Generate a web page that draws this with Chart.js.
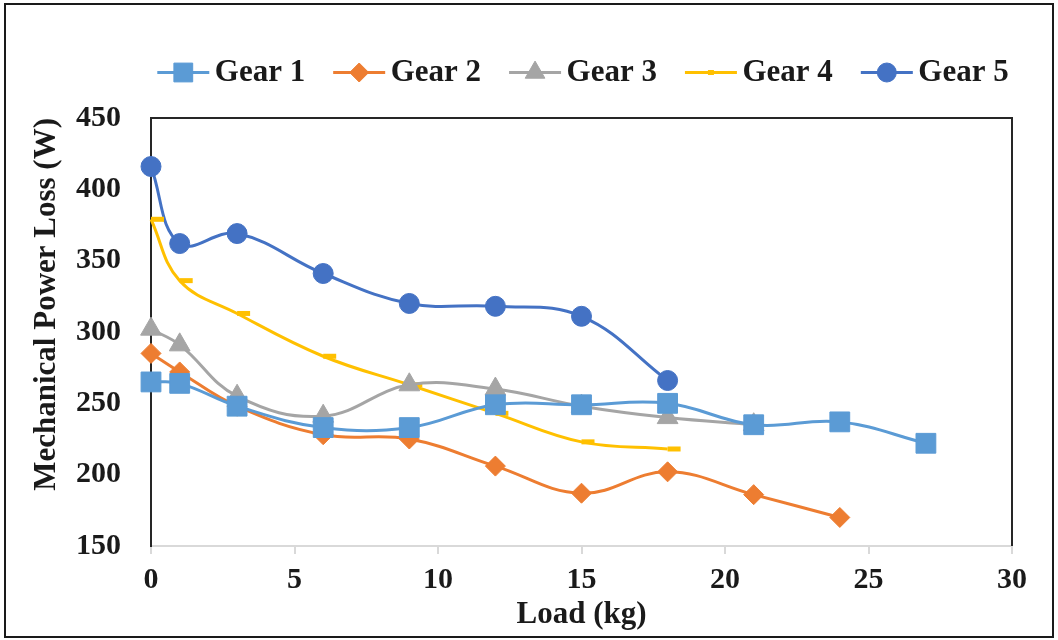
<!DOCTYPE html>
<html>
<head>
<meta charset="utf-8">
<script src="https://cdn.jsdelivr.net/npm/chart.js@4.4.1/dist/chart.umd.min.js"></script>
<style>
  html, body { margin: 0; padding: 0; background: #fff; }
  #wrap { position: relative; width: 1058px; height: 640px; }
  #frame {
    position: absolute; left: 4px; top: 3px; width: 1050px; height: 635px;
    box-sizing: border-box; border: 2px solid #1a1a1a; pointer-events: none;
  }
</style>
</head>
<body>
<div id="wrap">
  <canvas id="grafica" width="1058" height="640"></canvas>
  <div id="frame"></div>
</div>
<script>
// carga (kg) y pérdidas por marcha (W)
const cargas = [0, 1, 3, 6, 9, 12, 15, 18, 21, 24, 27];
const marcha1 = [265, 264, 248, 233, 233, 249, 249, 250, 235, 237, 222];
const marcha2 = [285, 272, 248, 228, 225, 206, 187, 202, 186, 170];
const marcha3 = [302, 291, 255, 241, 263, 260, 248, 240, 235];
const marcha4 = [379, 336, 313, 283, 263, 243, 223, 218];
const marcha5 = [416, 362, 369, 341, 320, 318, 311, 266];

const nombres = ['Gear 1', 'Gear 2', 'Gear 3', 'Gear 4', 'Gear 5'];
const colores = ['#5B9BD5', '#ED7D31', '#A5A5A5', '#FFC000', '#4472C4'];
const marcadores = ['rect', 'rectRot', 'triangle', 'dash', 'circle'];
const radios = [14, 10, 12, 13, 10];
const bordesPunto = [1, 1, 1, 5, 1];

const fuente = '"Liberation Serif", "Times New Roman", serif';
const texto = '#1a1a1a';

function puntos(valores) {
    return valores.map((v, i) => ({ x: cargas[i], y: v }));
}

const series = [marcha1, marcha2, marcha3, marcha4, marcha5];
const datasets = series.map((valores, i) => ({
    label: nombres[i],
    data: puntos(valores),
    showLine: true,
    tension: 0.4,
    borderColor: colores[i],
    backgroundColor: colores[i],
    borderWidth: 3,
    pointStyle: marcadores[i],
    pointRadius: radios[i],
    pointHoverRadius: radios[i],
    pointBorderWidth: bordesPunto[i],
    pointBackgroundColor: colores[i],
    pointBorderColor: colores[i],
    clip: false
}));

// la leyenda: sin cortes de fila, más alta y algo más ancha que el área
const ajusteLeyenda = {
    id: 'ajusteLeyenda',
    beforeLayout(chart) {
        const leyenda = chart.legend;
        if (!leyenda || leyenda._ajustada) return;
        const fitOriginal = leyenda.fit;
        leyenda.fit = function () {
            this.maxWidth = 1000;
            fitOriginal.call(this);
            this.height += 20;
        };
        leyenda._ajustada = true;
    },
    afterLayout(chart) {
        const leyenda = chart.legend;
        if (!leyenda) return;
        leyenda.left -= 60;
        leyenda.right += 60;
        leyenda.width = leyenda.right - leyenda.left;
    }
};

// línea y marcador de cada entrada de la leyenda
const marcadorLeyenda = {
    id: 'marcadorLeyenda',
    afterDraw(chart) {
        const leyenda = chart.legend;
        if (!leyenda || !leyenda.legendHitBoxes) return;
        const ctx = chart.ctx;
        leyenda.legendHitBoxes.forEach((caja, i) => {
            const x0 = caja.left + 3;
            const cx = x0 + 26;
            const cy = caja.top + caja.height / 2;
            ctx.save();
            ctx.strokeStyle = colores[i];
            ctx.lineWidth = 3;
            ctx.beginPath();
            ctx.moveTo(x0, cy);
            ctx.lineTo(x0 + 52, cy);
            ctx.stroke();
            ctx.fillStyle = colores[i];
            ctx.lineWidth = bordesPunto[i];
            Chart.helpers.drawPoint(ctx, {
                pointStyle: marcadores[i],
                radius: marcadores[i] === 'dash' ? 6 : radios[i] * 0.95,
                rotation: 0,
                borderWidth: bordesPunto[i]
            }, marcadores[i] === 'dash' ? cx - 3 : cx, cy);
            ctx.restore();
        });
    }
};

// marco del área de trazado (arriba, izquierda y derecha)
const marcoArea = {
    id: 'marcoArea',
    beforeDatasetsDraw(chart) {
        const { left, right, top, bottom } = chart.chartArea;
        const ctx = chart.ctx;
        ctx.save();
        ctx.strokeStyle = '#262626';
        ctx.lineWidth = 2;
        ctx.beginPath();
        ctx.moveTo(left, bottom);
        ctx.lineTo(left, top);
        ctx.lineTo(right, top);
        ctx.lineTo(right, bottom);
        ctx.stroke();
        ctx.restore();
    }
};

const ctx = document.getElementById('grafica').getContext('2d');
new Chart(ctx, {
    type: 'scatter',
    data: { datasets: datasets },
    plugins: [ajusteLeyenda, marcoArea, marcadorLeyenda],
    options: {
        responsive: false,
        animation: false,
        layout: { padding: { top: 32, right: 46, bottom: 0, left: 0 } },
        plugins: {
            tooltip: { enabled: false },
            legend: {
                position: 'top',
                fullSize: false,
                labels: {
                    boxWidth: 45,
                    boxHeight: 3,
                    padding: 25,
                    color: texto,
                    font: { family: fuente, size: 31, weight: 'bold' },
                    generateLabels(chart) {
                        const items = Chart.defaults.plugins.legend.labels.generateLabels(chart);
                        return items.map(it => Object.assign(it, {
                            lineWidth: 0,
                            fillStyle: 'rgba(0,0,0,0)'
                        }));
                    }
                }
            }
        },
        scales: {
            x: {
                type: 'linear',
                min: 0,
                max: 30,
                afterFit(scale) { scale.height = 94; },
                ticks: {
                    stepSize: 5,
                    padding: 8,
                    color: texto,
                    font: { family: fuente, size: 30, weight: 'bold' }
                },
                grid: {
                    drawOnChartArea: false,
                    drawTicks: true,
                    tickLength: 8,
                    color: '#d9d9d9',
                    lineWidth: 2
                },
                border: { color: '#d9d9d9', width: 2 },
                title: {
                    display: true,
                    text: 'Load (kg)',
                    color: texto,
                    font: { family: fuente, size: 31, weight: 'bold' },
                    padding: { top: 0, bottom: 6 }
                }
            },
            y: {
                type: 'linear',
                min: 150,
                max: 450,
                afterFit(scale) { scale.width = 151; },
                ticks: {
                    stepSize: 50,
                    padding: 30,
                    color: texto,
                    font: { family: fuente, size: 30, weight: 'bold' }
                },
                grid: { display: false, drawTicks: false },
                border: { color: '#262626', width: 2 },
                title: {
                    display: true,
                    text: 'Mechanical Power Loss (W)',
                    align: 'end',
                    color: texto,
                    font: { family: fuente, size: 31, weight: 'bold' },
                    padding: { top: 28, bottom: 0 }
                }
            }
        }
    }
});
</script>
</body>
</html>
